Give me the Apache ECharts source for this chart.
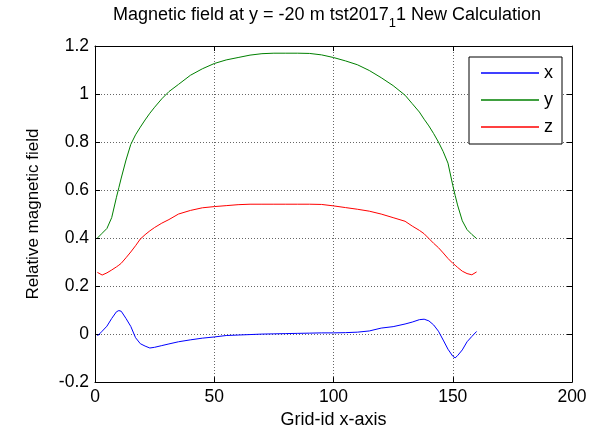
<!DOCTYPE html>
<html>
<head>
<meta charset="utf-8">
<script src="https://cdn.jsdelivr.net/npm/echarts@6/dist/echarts.min.js"></script>
<style>
  html, body { margin: 0; padding: 0; background: #fff; }
  #chart { width: 600px; height: 434px; }
</style>
</head>
<body>
<div id="chart"></div>
<script>
// Grid-id positions along the x-axis
const gridIds = [1, 3, 5, 7, 9, 10, 11, 13, 15, 17, 19, 21, 23, 25, 28, 31, 35, 40, 45, 50,
  55, 60, 65, 70, 75, 80, 85, 90, 95, 100, 105, 110, 115, 120, 125, 130, 133, 136, 138, 140,
  142, 144, 146, 148, 150, 151, 152, 154, 156, 158, 160];

// Relative magnetic field components
const fieldX = [-0.008, 0.012, 0.033, 0.065, 0.093, 0.098, 0.095, 0.065, 0.032, -0.015, -0.040, -0.050, -0.058, -0.055, -0.048, -0.041, -0.032, -0.024, -0.017, -0.012,
  -0.006, -0.004, -0.002, 0.000, 0.001, 0.002, 0.003, 0.004, 0.005, 0.005, 0.006, 0.008, 0.013, 0.025, 0.031, 0.042, 0.050, 0.060, 0.062, 0.055,
  0.038, 0.012, -0.025, -0.063, -0.092, -0.099, -0.090, -0.066, -0.032, -0.010, 0.011];

const fieldY = [0.400, 0.420, 0.440, 0.485, 0.570, 0.610, 0.650, 0.725, 0.790, 0.830, 0.862, 0.892, 0.920, 0.945, 0.980, 1.010, 1.040, 1.078, 1.105, 1.127,
  1.142, 1.152, 1.162, 1.168, 1.170, 1.170, 1.170, 1.169, 1.163, 1.152, 1.138, 1.122, 1.098, 1.068, 1.035, 0.995, 0.960, 0.925, 0.895, 0.867,
  0.835, 0.800, 0.760, 0.712, 0.620, 0.578, 0.538, 0.472, 0.435, 0.415, 0.398];

const fieldZ = [0.257, 0.246, 0.255, 0.267, 0.280, 0.287, 0.295, 0.318, 0.342, 0.368, 0.396, 0.414, 0.430, 0.444, 0.462, 0.477, 0.500, 0.515, 0.526, 0.531,
  0.535, 0.539, 0.541, 0.541, 0.541, 0.541, 0.541, 0.541, 0.540, 0.534, 0.527, 0.520, 0.512, 0.500, 0.485, 0.470, 0.450, 0.432, 0.418, 0.398,
  0.378, 0.360, 0.338, 0.315, 0.295, 0.287, 0.278, 0.262, 0.252, 0.247, 0.259];

const seriesNames = ['x', 'y', 'z'];
const seriesColors = ['#0000ff', '#008000', '#ff0000'];

const FONT = '"Liberation Sans", Arial, Helvetica, sans-serif';

const pairs = vals => gridIds.map((g, i) => [g, vals[i]]);

const chart = echarts.init(document.getElementById('chart'), null, { renderer: 'canvas' });

const tickStyle = { show: true, inside: true, length: 5, lineStyle: { color: '#000', width: 1 } };
const lineStyle = { show: true, onZero: false, lineStyle: { color: '#000', width: 1 } };
const gridLines = { show: true, lineStyle: { color: '#666', width: 1, type: [1, 2] } };

chart.setOption({
  animation: false,
  backgroundColor: '#fff',
  title: {
    text: '{a|Magnetic field at y = -20 m tst2017}{s|1}{a|1 New Calculation}',
    left: 322,
    textAlign: 'center',
    top: 1,
    textStyle: {
      rich: {
        a: { fontFamily: FONT, fontSize: 18, fontWeight: 'normal', color: '#000', lineHeight: 22, verticalAlign: 'top' },
        s: { fontFamily: FONT, fontSize: 13, fontWeight: 'normal', color: '#000', lineHeight: 22, verticalAlign: 'top', padding: [11, 0, 0, 0] }
      }
    }
  },
  grid: { left: 95, right: 28, top: 46, bottom: 50 },
  legend: {
    orient: 'vertical',
    left: 469,
    top: 57,
    data: seriesNames,
    icon: 'rect',
    itemWidth: 58,
    itemHeight: 1.5,
    itemGap: 9,
    padding: [7, 9, 8, 12],
    backgroundColor: '#fff',
    borderColor: '#000',
    borderWidth: 1,
    borderRadius: 0,
    textStyle: { fontFamily: FONT, fontSize: 18, color: '#000', lineHeight: 14 }
  },
  xAxis: [
    {
      type: 'value', min: 0, max: 200, interval: 50,
      axisLine: lineStyle, axisTick: tickStyle, splitLine: gridLines,
      axisLabel: { fontFamily: FONT, fontSize: 17.5, color: '#000', margin: 6 },
      name: 'Grid-id x-axis', nameLocation: 'middle', nameGap: 26,
      nameTextStyle: { fontFamily: FONT, fontSize: 18, color: '#000' }
    },
    {
      type: 'value', min: 0, max: 200, interval: 50, position: 'top',
      axisLine: lineStyle, axisTick: tickStyle, splitLine: { show: false },
      axisLabel: { show: false }
    }
  ],
  yAxis: [
    {
      type: 'value', min: -0.2, max: 1.2, interval: 0.2,
      axisLine: lineStyle, axisTick: tickStyle, splitLine: gridLines,
      axisLabel: {
        fontFamily: FONT, fontSize: 17.5, color: '#000', margin: 6,
        formatter: v => String(+v.toFixed(1))
      },
      name: 'Relative magnetic field', nameLocation: 'middle', nameGap: 53, nameRotate: 90,
      nameTextStyle: { fontFamily: FONT, fontSize: 17, color: '#000' }
    },
    {
      type: 'value', min: -0.2, max: 1.2, interval: 0.2, position: 'right',
      axisLine: lineStyle, axisTick: tickStyle, splitLine: { show: false },
      axisLabel: { show: false }
    }
  ],
  series: [fieldX, fieldY, fieldZ].map((vals, i) => ({
    name: seriesNames[i],
    type: 'line',
    data: pairs(vals),
    xAxisIndex: 0,
    yAxisIndex: 0,
    symbol: 'none',
    showSymbol: false,
    smooth: false,
    color: seriesColors[i],
    lineStyle: { color: seriesColors[i], width: 1 },
    itemStyle: { color: seriesColors[i] }
  }))
});
</script>
</body>
</html>
